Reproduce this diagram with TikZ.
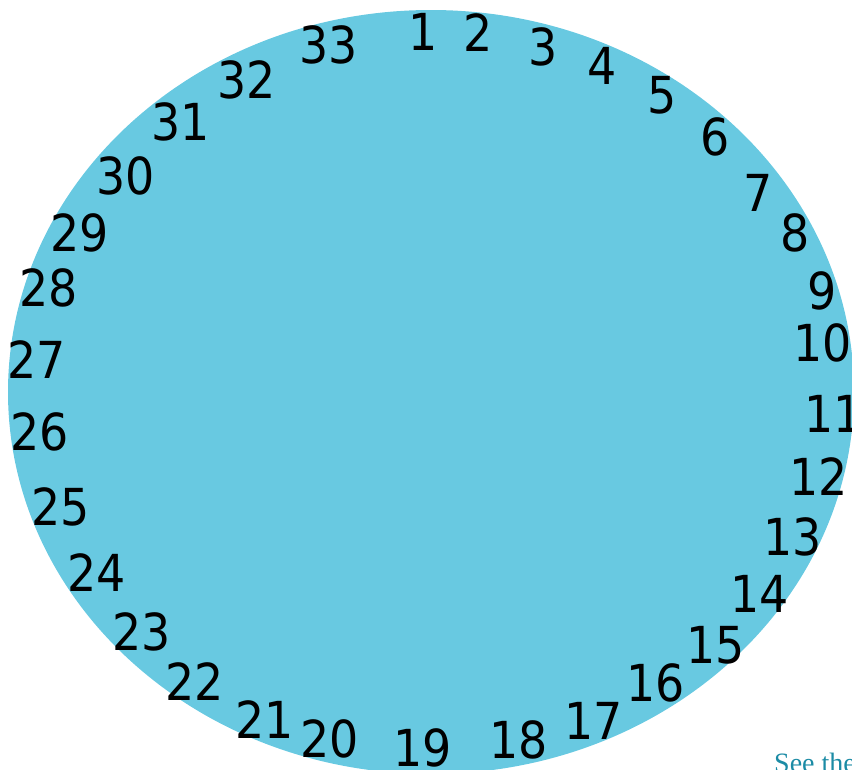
\documentclass[tikz,border=0pt]{standalone}
\usepackage{fontspec}
\newfontfamily\numfont[FakeStretch=0.9]{DejaVu Sans}
\newfontfamily\capfont{Liberation Serif}
\definecolor{cblue}{RGB}{104,201,225}
\definecolor{teal1}{RGB}{27,139,165}
\begin{document}
\begin{tikzpicture}[x=1pt,y=-1pt,
  numlabel/.style={inner sep=0pt, font=\numfont\fontsize{51}{51}\selectfont, text=black},
  captext/.style={inner sep=0pt, anchor=base west, font=\capfont\fontsize{28}{28}\selectfont, text=teal1}]
\useasboundingbox (0,0) rectangle (852,769);
\clip (0,0) rectangle (852,769);
\fill[cblue] (431,392) ellipse [x radius=423pt, y radius=382pt];
\foreach \i/\x/\y in {1/423/32, 2/478/33, 3/543/47, 4/602/66, 5/662/95, 6/715/137,
  7/758/193, 8/795/233, 9/822/291, 10/823/343, 11/834/414, 12/819/477,
  13/793/537, 14/760/594, 15/716/645, 16/656/683, 17/594/721, 18/519/740,
  19/423/748, 20/330/739, 21/265/720, 22/195/682, 23/142/632, 24/97/573,
  25/61/507, 26/40/432, 27/37/360, 28/49/288, 29/80/233, 30/126/176,
  31/181/122, 32/247/80, 33/329/45}
  \node[numlabel] (n\i) at (\x,\y) {\i};
\node[captext] (see) at (774,772) {See the};
\end{tikzpicture}
\end{document}
